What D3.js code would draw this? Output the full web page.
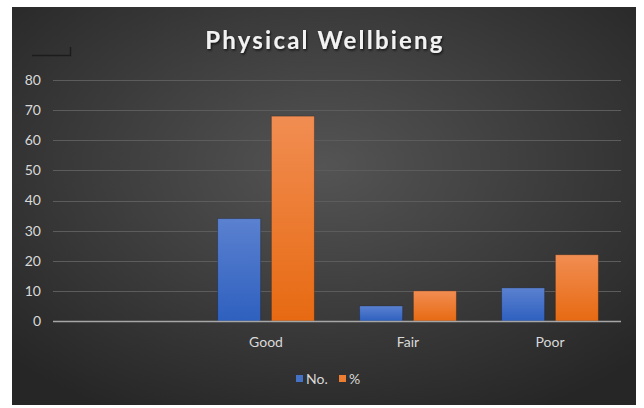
<!DOCTYPE html>
<html>
<head>
<meta charset="utf-8">
<script src="https://cdn.jsdelivr.net/npm/d3@7"></script>
<style>
  body { margin: 0; background: #fff; }
  text { font-family: Lato, "Open Sans", sans-serif; }
</style>
</head>
<body>
<div id="chart"></div>
<script>
// Data
const categories = ['', 'Good', 'Fair', 'Poor']
const seriesNames = ['No.', '%']
const countValues = [null, 34, 5, 11]
const percentValues = [null, 68, 10, 22]
const yTicks = [0, 10, 20, 30, 40, 50, 60, 70, 80]

const width = 644
const height = 408
const frame = { x: 12, y: 7, w: 624, h: 398 }
const plot = { left: 53, right: 621, top: 80, bottom: 321 }

const svg = d3.select('#chart').append('svg')
  .attr('width', width)
  .attr('height', height)

const defs = svg.append('defs')
const bg = defs.append('radialGradient').attr('id', 'bg')
  .attr('cx', '50%').attr('cy', '40%').attr('r', '70%')
bg.append('stop').attr('offset', '0%').attr('stop-color', '#545454')
bg.append('stop').attr('offset', '100%').attr('stop-color', '#262626')

const blueGrad = defs.append('linearGradient').attr('id', 'blue')
  .attr('x1', 0).attr('y1', 0).attr('x2', 0).attr('y2', 1)
blueGrad.append('stop').attr('offset', '0%').attr('stop-color', '#5b81d0')
blueGrad.append('stop').attr('offset', '100%').attr('stop-color', '#2e60bf')

const orangeGrad = defs.append('linearGradient').attr('id', 'orange')
  .attr('x1', 0).attr('y1', 0).attr('x2', 0).attr('y2', 1)
orangeGrad.append('stop').attr('offset', '0%').attr('stop-color', '#f18d52')
orangeGrad.append('stop').attr('offset', '100%').attr('stop-color', '#e76a12')

const shadow = defs.append('filter').attr('id', 'shadow')
  .attr('x', '-20%').attr('y', '-20%').attr('width', '140%').attr('height', '140%')
shadow.append('feDropShadow').attr('dx', 1).attr('dy', 1.5).attr('stdDeviation', 1.2)
  .attr('flood-color', '#000').attr('flood-opacity', 0.7)

svg.append('rect')
  .attr('x', frame.x).attr('y', frame.y)
  .attr('width', frame.w).attr('height', frame.h)
  .attr('fill', 'url(#bg)')

// stray little line in the corner
svg.append('path')
  .attr('d', 'M32,55.5 H70.5 V47')
  .attr('fill', 'none')
  .attr('stroke', '#1c1c1c')
  .attr('stroke-width', 1.5)

// Title
svg.append('text')
  .attr('x', 325).attr('y', 49)
  .attr('text-anchor', 'middle')
  .attr('fill', '#f2f2f2')
  .attr('font-size', 24)
  .attr('font-weight', 'bold')
  .attr('letter-spacing', 2.2)
  .attr('filter', 'url(#shadow)')
  .text('Physical Wellbieng')

// Scales
const yScale = d3.scaleLinear().domain([0, 80]).range([plot.bottom, plot.top])
const xScale = d3.scaleBand().domain(categories.map((d, i) => i))
  .range([plot.left, plot.right])
const innerScale = d3.scaleBand().domain([0, 1])
  .range([0, xScale.bandwidth()]).paddingInner(0.2).paddingOuter(0.42)

// Grid
svg.append('g').selectAll('line')
  .data(yTicks.filter((d) => d > 0))
  .join('line')
  .attr('x1', plot.left).attr('x2', plot.right)
  .attr('y1', (d) => Math.round(yScale(d)) + 0.5)
  .attr('y2', (d) => Math.round(yScale(d)) + 0.5)
  .attr('stroke', '#5c5c5c')
  .attr('stroke-width', 1)

// Y axis labels
const yAxis = d3.axisLeft(yScale).tickValues(yTicks).tickSize(0).tickPadding(0)
const yG = svg.append('g').attr('transform', `translate(41,0)`).call(yAxis)
yG.select('.domain').remove()
yG.selectAll('text')
  .attr('fill', '#d9d9d9')
  .attr('font-size', 14)
  .attr('font-family', 'Lato, "Open Sans", sans-serif')

// Bars
const series = [countValues, percentValues]
const fills = ['url(#blue)', 'url(#orange)']
series.forEach((vals, s) => {
  svg.append('g').selectAll('rect')
    .data(vals.map((v, i) => ({ v, i })).filter((d) => d.v != null))
    .join('rect')
    .attr('x', (d) => xScale(d.i) + innerScale(s))
    .attr('y', (d) => yScale(d.v))
    .attr('width', innerScale.bandwidth())
    .attr('height', (d) => yScale(0) - yScale(d.v))
    .attr('fill', fills[s])
    .attr('stroke', 'rgba(0,0,0,0.25)')
    .attr('stroke-width', 1)
})

// X axis
const xAxis = d3.axisBottom(xScale).tickSize(0).tickPadding(0)
  .tickFormat((i) => categories[i])
const xG = svg.append('g').attr('transform', `translate(0,${plot.bottom})`).call(xAxis)
xG.select('.domain')
  .attr('d', `M${plot.left},0.5H${plot.right}`)
  .attr('stroke', '#a6a6a6')
  .attr('stroke-width', 1.5)
xG.selectAll('text')
  .attr('y', 26)
  .attr('dy', 0)
  .attr('fill', '#d9d9d9')
  .attr('font-size', 14)
  .attr('font-family', 'Lato, "Open Sans", sans-serif')

// Legend
const legend = svg.append('g').attr('transform', 'translate(296,379)')
const legendX = [0, 43]
seriesNames.forEach((name, s) => {
  const g = legend.append('g').attr('transform', `translate(${legendX[s]},0)`)
  g.append('rect').attr('x', 0).attr('y', -4).attr('width', 7).attr('height', 7)
    .attr('fill', s === 0 ? '#4472c4' : '#ed7d31')
  g.append('text').attr('x', 10).attr('y', 5)
    .attr('fill', '#d9d9d9').attr('font-size', 14)
    .text(name)
})
</script>
</body>
</html>
